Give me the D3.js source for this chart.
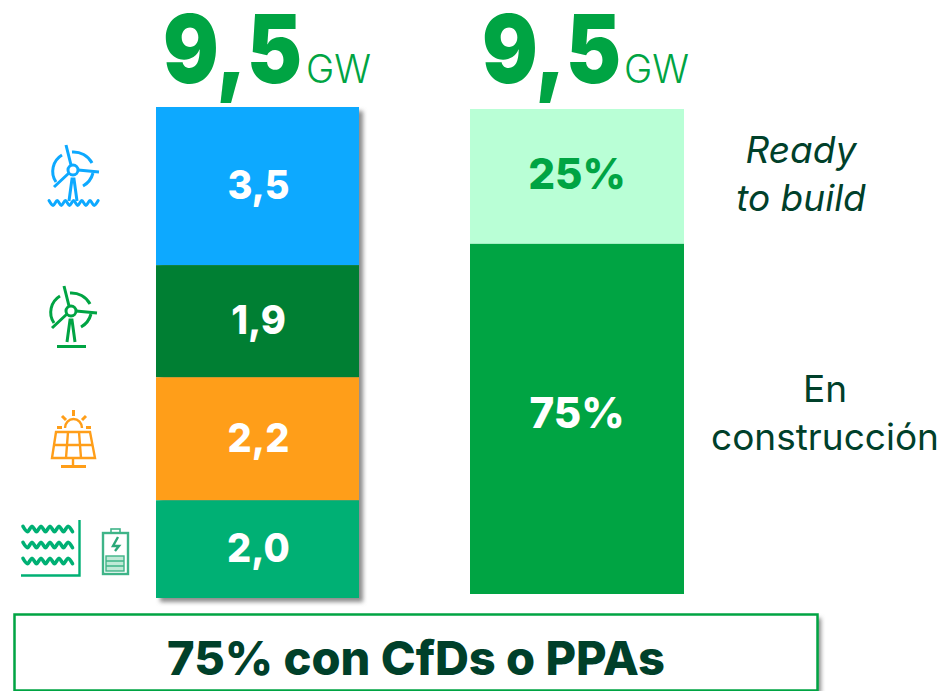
<!DOCTYPE html>
<html>
<head>
<meta charset="utf-8">
<script src="https://cdn.jsdelivr.net/npm/d3@7"></script>
<style>
  html, body { margin: 0; padding: 0; background: #fff; }
  svg { display: block; }
  text { font-family: Inter, "Noto Sans", sans-serif; }
</style>
</head>
<body>
<script>
// printed labels and the height each block really has in the picture (in GW / %)
var techLabels = ["3,5", "1,9", "2,2", "2,0"];
var techDrawn = [3.06, 2.17, 2.38, 1.89];
var techColors = ["#0da9ff", "#007f33", "#ff9e19", "#00b074"];

var statusLabels = ["25%", "75%"];
var statusDrawn = [27.8, 72.2];
var statusColors = ["#b9ffd6", "#00a443"];
var statusTextColors = ["#00a443", "#ffffff"];

var totalLabel = "9,5";
var unitLabel = "GW";
var footerLabel = "75% con CfDs o PPAs";

var green = "#00a443";
var dark = "#00402a";

var w = 947, h = 691;

var svg = d3.select("body").append("svg")
  .attr("width", w)
  .attr("height", h);

var defs = svg.append("defs");
var blur = defs.append("filter").attr("id", "soft")
  .attr("x", "-10%").attr("y", "-10%").attr("width", "120%").attr("height", "120%");
blur.append("feGaussianBlur").attr("stdDeviation", 2);

// stack a list of values into start/end pairs
function stack(values) {
  var sum = 0;
  return values.map(function(v, i){
    var row = {i: i, y0: sum, y1: sum + v};
    sum += v;
    return row;
  });
}

// squeeze a label a little, the original font is narrower than Inter
function squeeze(sel, k) {
  sel.each(function(){
    d3.select(this)
      .attr("textLength", this.getComputedTextLength() * k)
      .attr("lengthAdjust", "spacingAndGlyphs");
  });
}

// left column
var techY = d3.scaleLinear().domain([0, d3.sum(techDrawn)]).range([107, 598]);
var techX = {x: 156, w: 203};

svg.append("rect") // shadow
  .attr("x", techX.x + 4).attr("y", 111)
  .attr("width", techX.w).attr("height", 491)
  .attr("fill", "#8c8c8c")
  .attr("filter", "url(#soft)");

var techRows = svg.append("g").selectAll("g")
  .data(stack(techDrawn))
  .join("g");

techRows.append("rect")
  .attr("x", techX.x)
  .attr("width", techX.w)
  .attr("y", function(d){ return techY(d.y0); })
  .attr("height", function(d){ return techY(d.y1) - techY(d.y0); })
  .attr("fill", function(d){ return techColors[d.i]; });

techRows.append("text")
  .attr("x", techX.x + techX.w / 2 + 1)
  .attr("y", function(d){ return (techY(d.y0) + techY(d.y1)) / 2 + 13; })
  .attr("text-anchor", "middle")
  .attr("font-size", 40)
  .attr("font-weight", 800)
  .attr("fill", "#fff")
  .text(function(d){ return techLabels[d.i]; })
  .call(squeeze, 0.95);

// right column
var statusY = d3.scaleLinear().domain([0, d3.sum(statusDrawn)]).range([109, 594]);
var statusX = {x: 470, w: 214};

var statusRows = svg.append("g").selectAll("g")
  .data(stack(statusDrawn))
  .join("g");

statusRows.append("rect")
  .attr("x", statusX.x)
  .attr("width", statusX.w)
  .attr("y", function(d){ return statusY(d.y0); })
  .attr("height", function(d){ return statusY(d.y1) - statusY(d.y0); })
  .attr("fill", function(d){ return statusColors[d.i]; });

statusRows.append("text")
  .attr("x", statusX.x + statusX.w / 2)
  .attr("y", function(d){ return (statusY(d.y0) + statusY(d.y1)) / 2 + (d.i ? 9 : 13); }) // 75% sits above the middle
  .attr("text-anchor", "middle")
  .attr("font-size", 43)
  .attr("font-weight", 800)
  .attr("fill", function(d){ return statusTextColors[d.i]; })
  .text(function(d){ return statusLabels[d.i]; })
  .call(squeeze, 0.98);

// totals on top
[{x: 163, ux: 306}, {x: 482, ux: 624}].forEach(function(p){
  var big = svg.append("g").attr("transform", "translate(" + p.x + ",83)");
  var t = big.append("text")
    .attr("font-size", 95)
    .attr("font-weight", 900)
    .attr("fill", green)
    .text(totalLabel);
  big.attr("transform", "translate(" + p.x + ",83) scale(" + (139 / t.node().getComputedTextLength()) + ",1)");
  svg.append("text")
    .attr("x", p.ux).attr("y", 83)
    .attr("font-size", 39)
    .attr("font-weight", 300)
    .attr("fill", green)
    .attr("textLength", 65)
    .attr("lengthAdjust", "spacingAndGlyphs")
    .text(unitLabel);
});

// side labels
function side(lines, x, ys, italic) {
  lines.forEach(function(t, i){
    svg.append("text")
      .attr("x", x).attr("y", ys[i])
      .attr("text-anchor", "middle")
      .attr("font-size", 37)
      .attr("font-style", italic ? "italic" : "normal")
      .attr("fill", dark)
      .text(t);
  });
}
side(["Ready", "to build"], 801, [163, 211], true);
side(["En", "construcción"], 825, [402, 450], false);

// footer box
svg.append("rect")
  .attr("x", 17).attr("y", 618)
  .attr("width", 804).attr("height", 76)
  .attr("fill", "#8c8c8c")
  .attr("filter", "url(#soft)");
svg.append("rect")
  .attr("x", 14.5).attr("y", 614.5)
  .attr("width", 803).attr("height", 76)
  .attr("fill", "#fff")
  .attr("stroke", green)
  .attr("stroke-width", 2.5);
svg.append("text")
  .attr("x", 416).attr("y", 675)
  .attr("text-anchor", "middle")
  .attr("font-size", 47)
  .attr("font-weight", 800)
  .attr("fill", dark)
  .attr("textLength", 498)
  .attr("lengthAdjust", "spacingAndGlyphs")
  .text(footerLabel);

// icons
function turbine(g, color, base) {
  g.attr("fill", "none").attr("stroke", color).attr("stroke-width", 3);
  g.append("circle").attr("r", 5).attr("cx", 0).attr("cy", 0);
  g.append("path").attr("d", "M-2 -5L-7 -25M5 0L26 2M-4 3L-19 17"); // blades
  g.append("path").attr("d", "M-11 -15A19 19 0 0 0 -17 12"); // arcs
  g.append("path").attr("d", "M-1 -18A21 21 0 0 1 19 -7");
  g.append("path").attr("d", "M20 3A21 21 0 0 1 10 16");
  g.append("path").attr("d", "M-4 31L-1 9H1L4 31"); // tower
  base(g);
}
function waves(g, x0, y, n, step, amp, color, width) {
  var line = d3.line().curve(d3.curveCatmullRom);
  var pts = [];
  for (var i = 0; i <= n * 2; i++) pts.push([x0 + i * step / 2, y + (i % 2 ? amp : -amp)]);
  g.append("path").attr("d", line(pts)).attr("fill", "none")
    .attr("stroke", color).attr("stroke-width", width).attr("stroke-linecap", "round");
}

turbine(svg.append("g").attr("transform", "translate(73,170)"), "#0da9ff", function(g){
  waves(g, -24, 33, 6, 8.2, 2.4, "#0da9ff", 3);
});
turbine(svg.append("g").attr("transform", "translate(71,311)"), green, function(g){
  g.append("path").attr("d", "M-14 35.5H15");
});

// solar
var solar = svg.append("g")
  .attr("fill", "none").attr("stroke", "#ff9e19").attr("stroke-width", 2.4);
solar.append("path").attr("d", "M65 428A8.5 9 0 0 1 82 428"); // sun
solar.append("path").attr("stroke-width", 3)
  .attr("d", "M73.5 410V416M62 416L66 420M86 416L82 420M57 427.5H62M86 427.5H91");
solar.append("path").attr("d", "M56 432H90L95 458H52ZM54 445H93M68 432L66 458M79 432L81 458M73 458V466");
solar.append("path").attr("stroke-width", 3).attr("d", "M61 466.5H86");

// wave block
var block = svg.append("g");
[529, 545, 561].forEach(function(y){
  waves(block, 23, y, 5.5, 9, 2.6, "#00b074", 3.6);
});
block.append("path").attr("d", "M79.5 520V575.5H21").attr("fill", "none").attr("stroke", "#00b074").attr("stroke-width", 2.4);

// battery
var batt = svg.append("g").attr("fill", "none").attr("stroke", "#3fb488").attr("stroke-width", 2.4);
batt.append("rect").attr("x", 103).attr("y", 533).attr("width", 25).attr("height", 41);
batt.append("rect").attr("x", 111).attr("y", 529).attr("width", 9).attr("height", 4).attr("stroke-width", 1.6);
batt.append("path").attr("d", "M118 537L113 546H119L115 551").attr("stroke", "#2aa878");
batt.append("rect").attr("x", 106).attr("y", 556).attr("width", 18).attr("height", 15).attr("fill", "#bfe9d6").attr("stroke-width", 1.4);
batt.append("path").attr("stroke-width", 1.4).attr("d", "M106 561H124M106 566H124");
</script>
</body>
</html>
